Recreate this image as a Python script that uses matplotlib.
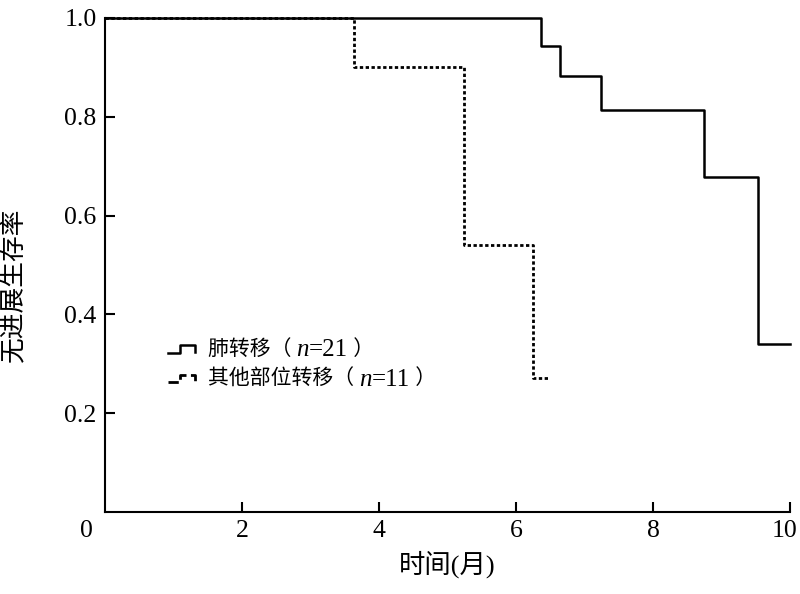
import matplotlib
matplotlib.use("Agg")
import matplotlib.pyplot as plt
import matplotlib.transforms as mtransforms
from matplotlib.lines import Line2D
from matplotlib.legend_handler import HandlerBase

# ---------------------------------------------------------------- data
lung_t = [0, 6.36, 6.64, 7.24, 8.74, 9.53, 10.0]
lung_s = [1.0, 0.943, 0.883, 0.814, 0.678, 0.340, 0.340]
other_t = [0, 3.63, 5.24, 6.25, 6.50]
other_s = [1.0, 0.90, 0.540, 0.271, 0.271]

x_ticks = [2, 4, 6, 8, 10]
y_ticks = [0.2, 0.4, 0.6, 0.8, 1.0]
y_ticklabels = ["0.2", "0.4", "0.6", "0.8", "1.0"]

lab_lung = ("肺转移（ ", "21")
lab_other = ("其他部位转移（ ", "11")

# ---------------------------------------------------------------- style
FAM = ["Liberation Serif", "Noto Sans CJK SC", "DejaVu Sans"]
plt.rcParams.update({
    "font.family": FAM,
    "axes.linewidth": 1.5,
    "xtick.direction": "in",
    "ytick.direction": "in",
    "xtick.major.size": 7,
    "ytick.major.size": 7,
    "xtick.major.width": 1.5,
    "ytick.major.width": 1.5,
})
DOT = (0, (1.2, 0.9))
LEG_FS = 15
NUM_FS = 18


class StepHandler(HandlerBase):
    # small step-shaped legend key, like the KM curves themselves
    def create_artists(self, legend, orig_handle, xdescent, ydescent,
                       width, height, fontsize, trans):
        x0, y0 = -xdescent, -ydescent
        xm = x0 + 0.45 * width
        xs = [x0, xm, xm, x0 + width, x0 + width]
        ys = [y0 + 0.15 * height, y0 + 0.15 * height, y0 + 0.65 * height,
              y0 + 0.65 * height, y0 + 0.2 * height]
        ln = Line2D(xs, ys, color=orig_handle.get_color(),
                    lw=orig_handle.get_linewidth(),
                    ls=orig_handle.get_linestyle())
        ln.set_transform(trans)
        return [ln]


fig = plt.figure(figsize=(8.0, 5.94), dpi=100)
ax = fig.add_axes([0.131, 0.138, 0.8565, 0.832])

h1, = ax.step(lung_t, lung_s, where="post", color="black", lw=1.8,
              clip_on=False, label=lab_lung[0])
h2, = ax.step(other_t, other_s, where="post", color="black", lw=2.0, ls=DOT,
              clip_on=False, label=lab_other[0])

ax.set_xlim(0, 10)
ax.set_ylim(0, 1.0)
ax.spines["top"].set_visible(False)
ax.spines["right"].set_visible(False)

ax.set_xticks(x_ticks)
ax.set_xticklabels([str(v) for v in x_ticks], fontsize=18.5)
ax.set_yticks(y_ticks)
ax.set_yticklabels(y_ticklabels, fontsize=18.5)
ax.tick_params(axis="x", pad=6)
ax.tick_params(axis="y", pad=6)
# the last x label sits against the figure edge; pull it in a little
last = ax.get_xticklabels()[-1]
last.set_transform(last.get_transform() +
                   mtransforms.ScaledTranslation(-4 / 72, 0, fig.dpi_scale_trans))
ax.annotate("0", xy=(0, 0), xytext=(-13, -6), textcoords="offset points",
            ha="center", va="top", fontsize=18.5)

ax.set_xlabel("时间(月)", fontsize=19, labelpad=6)
ax.set_ylabel("无进展生存率", fontsize=18.5)
ax.yaxis.set_label_coords(-0.115, 0.46)

leg = ax.legend(handles=[h1, h2], handler_map={h1: StepHandler(), h2: StepHandler()},
                loc="upper left", bbox_to_anchor=(0.08, 0.365),
                frameon=False, fontsize=LEG_FS, handlelength=1.3, handletextpad=0.6,
                labelspacing=0.45, borderaxespad=0)

# append the italic n and the count after each legend label
# (zorder above the legend so they are placed after the legend is laid out)
for txt, (_, num) in zip(leg.get_texts(), [lab_lung, lab_other]):
    t_n = ax.annotate("n", xy=(1, 0), xycoords=txt, xytext=(0, -1),
                      textcoords="offset points", va="bottom", ha="left",
                      fontsize=NUM_FS, style="italic", zorder=6)
    t_v = ax.annotate("=" + num, xy=(1, 0), xycoords=t_n, va="bottom", ha="left",
                      fontsize=NUM_FS, zorder=6)
    ax.annotate(" ）", xy=(1, 0), xycoords=t_v, xytext=(0, 1),
                textcoords="offset points", va="bottom", ha="left",
                fontsize=LEG_FS, zorder=6)

fig.canvas.draw()
fig.savefig("out.png", dpi=100)
